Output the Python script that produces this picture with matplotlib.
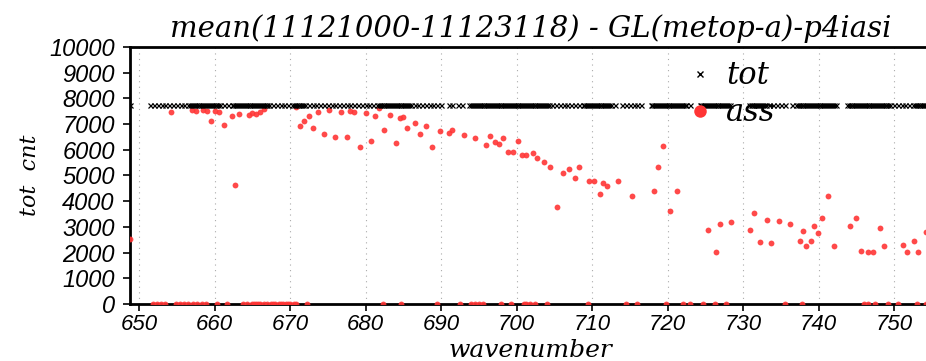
import numpy as np
import matplotlib
matplotlib.use('Agg')
import matplotlib.pyplot as plt
from matplotlib.lines import Line2D

# channels present in the "tot" row (wavenumber, cm-1)
tot_wn = [
    648.75,
    651.5, 652.0, 652.5, 653.0, 653.5, 654.0, 654.5, 655.0, 655.5, 656.0, 656.5,
    656.75, 657.0, 657.25, 657.5, 657.75, 658.0, 658.25, 658.5, 658.75, 659.0, 659.25,
    659.5, 659.75, 660.0, 660.25, 660.5, 660.75,
    661.25, 661.75, 662.25,
    662.5, 662.75, 663.0, 663.25, 663.5, 663.75, 664.0, 664.25, 664.5, 664.75, 665.0,
    665.25, 665.5, 665.75, 666.0, 666.25, 666.5, 666.75, 667.0, 667.25,
    667.75, 668.25, 668.75, 669.25, 669.75, 670.25,
    670.5, 670.75, 671.0, 671.25, 671.5, 671.75, 672.0,
    672.5, 673.0, 673.5, 674.0, 674.5, 675.0, 675.5, 676.0, 676.5, 677.0, 677.5, 678.0,
    678.5, 679.0, 679.5, 680.0, 680.5, 681.0, 681.5,
    681.75, 682.0, 682.25, 682.5, 682.75, 683.0, 683.25, 683.5, 683.75, 684.0, 684.25,
    684.5, 684.75, 685.0, 685.25, 685.5, 685.75, 686.0,
    686.5, 687.0, 687.5, 688.0, 688.5, 689.0, 689.5, 690.0,
    691.0, 691.5, 692.25, 692.75,
    693.75, 694.0, 694.25, 694.5, 694.75, 695.0, 695.25, 695.5, 695.75, 696.0, 696.25,
    696.5, 696.75, 697.0, 697.25, 697.5, 697.75, 698.0, 698.25, 698.5, 698.75, 699.0,
    699.25, 699.5, 699.75, 700.0, 700.25, 700.5, 700.75, 701.0, 701.25, 701.5, 701.75,
    702.0, 702.25, 702.5, 702.75, 703.0, 703.25, 703.5, 703.75, 704.0, 704.25,
    704.75, 705.25, 705.75, 706.25, 706.75, 707.25, 707.75, 708.25, 708.75,
    709.0, 709.25, 709.5, 709.75, 710.0, 710.25, 710.5, 710.75, 711.0, 711.25, 711.5,
    711.75, 712.0, 712.25, 712.5,
    713.0,
    714.0, 714.5, 715.0, 715.5, 716.0, 716.5,
    717.75, 718.0, 718.25, 718.5, 718.75, 719.0, 719.25, 719.5, 719.75, 720.0, 720.25,
    720.5, 720.75, 721.0, 721.25, 721.5, 721.75, 722.0, 722.25, 722.5,
    723.0,
    724.25, 724.5, 724.75, 725.0, 725.25, 725.5, 725.75, 726.0, 726.25, 726.5, 726.75,
    727.0, 727.25, 727.5, 727.75, 728.0, 728.25,
    730.75, 731.0, 731.25, 731.5, 731.75, 732.0, 732.25, 732.5, 732.75, 733.0, 733.5,
    734.0, 734.5, 735.0, 735.5,
    736.5, 737.0,
    737.25, 737.5, 737.75, 738.0, 738.25, 738.5, 738.75, 739.0, 739.25, 739.5, 739.75,
    740.0, 740.25, 740.5, 740.75, 741.0, 741.25, 741.5, 741.75, 742.0, 742.25,
    743.75, 744.0, 744.25, 744.5, 744.75, 745.0, 745.25, 745.5, 745.75, 746.0, 746.25,
    746.5, 746.75, 747.0, 747.25, 747.5, 747.75, 748.0, 748.25, 748.5, 748.75, 749.0,
    749.25, 749.5,
    750.0, 750.5, 751.0, 751.5, 752.0,
    752.5, 752.75, 753.0, 753.25, 753.5, 753.75, 754.0, 754.25, 754.5,
]
tot_count = 7750

# assimilated counts
ass_wn = [
    648.8, 654.2, 657.0, 657.5, 658.5, 659.0, 659.5, 660.1, 660.6, 661.3, 662.3, 662.7,
    663.2, 664.5, 665.0, 665.5, 666.0, 666.6, 670.8, 671.3, 671.9, 672.5, 673.0, 673.7,
    674.5, 675.2, 676.0, 676.8, 677.5, 677.9, 678.5, 679.3, 680.0, 680.7, 681.3, 681.8,
    682.5, 683.2, 684.0, 684.5, 685.0, 685.5, 686.5, 687.2, 688.0, 688.8, 689.8, 691.0,
    691.5, 693.0, 694.5, 696.0, 696.5, 697.2, 697.7, 698.2, 698.9, 699.5, 700.2, 700.7,
    701.3, 702.2, 702.7, 703.7, 704.4, 705.3, 706.2, 707.0, 707.7, 708.3, 709.6, 710.2,
    711.0, 711.5, 712.0, 713.5, 715.3, 718.2, 718.7, 719.4, 720.3, 721.2, 725.4, 726.4,
    726.95, 728.4, 730.9, 731.5, 732.2, 733.2, 733.7, 734.7, 736.2, 737.5, 738.0, 738.4,
    739.0, 739.4, 739.9, 740.5, 741.2, 742.0, 744.2, 745.0, 745.6, 746.5, 747.2, 748.2,
    748.7, 751.2, 751.7, 752.7, 753.2, 754.2,
]
ass_count = [
    2530, 7480, 7550, 7520, 7550, 7510, 7120, 7510, 7450, 6960, 7330, 4640,
    7390, 7350, 7420, 7390, 7480, 7590, 7650, 6930, 7100, 7330, 6840, 7450,
    6620, 7550, 6490, 7460, 6510, 7510, 7480, 6120, 7420, 6340, 7330, 7610,
    6750, 7340, 6250, 7250, 7260, 6850, 7040, 6620, 6930, 6120, 6730, 6670,
    6750, 6590, 6450, 6190, 6540, 6290, 6240, 6460, 5910, 5910, 6340, 5800,
    5800, 5860, 5670, 5510, 5320, 3790, 5090, 5240, 4920, 5310, 4800, 4800,
    4280, 4720, 4570, 4770, 4200, 4390, 5340, 6150, 3630, 4410, 2880, 2020,
    3100, 3200, 2880, 3530, 2410, 3270, 2370, 3240, 3110, 2450, 2840, 2260,
    2450, 3040, 2750, 3330, 4210, 2260, 3040, 3360, 2050, 2020, 2010, 2970,
    2260, 2300, 2040, 2450, 2020, 2790,
]
# channels with zero assimilated obs
zero_wn = [
    651.9, 652.4, 652.9, 653.5, 654.9, 655.4, 656.0, 656.5, 657.1, 657.7, 658.3, 658.9,
    660.3, 661.7, 663.75, 664.25, 665.0, 665.25, 665.5, 665.75, 666.0, 666.5, 667.0,
    667.5, 667.75, 668.0, 668.5, 668.75, 669.0, 669.5, 669.75, 670.0, 670.5, 670.75,
    672.25, 682.25, 684.75, 689.5, 692.5, 694.0, 694.5, 695.0, 695.5, 698.0, 699.25,
    701.0, 701.25, 701.75, 702.5, 704.0, 709.5, 714.5, 716.0, 719.75, 722.0, 723.0,
    724.75, 726.25, 727.75, 735.5, 737.75, 746.0, 746.5, 747.5, 749.25, 750.5, 753.0,
    754.25,
]

x_ticks = [650, 660, 670, 680, 690, 700, 710, 720, 730, 740, 750]
y_ticks = [0, 1000, 2000, 3000, 4000, 5000, 6000, 7000, 8000, 9000, 10000]

serif = 'DejaVu Serif'
sans = 'Liberation Sans'
red = '#ff3535'

fig = plt.figure(figsize=(9.26, 3.61), dpi=100)
ax = fig.add_axes([0.1404, 0.158, 0.865, 0.712])

ax.plot(zero_wn, np.zeros(len(zero_wn)), 'o', color=red, ms=4.2, mew=0, alpha=0.9, zorder=3)
ax.plot(ass_wn, ass_count, 'o', color=red, ms=4.2, mew=0, alpha=0.9, zorder=3)
ax.plot(tot_wn, np.full(len(tot_wn), tot_count), 'x', color='black', ms=3.6, mew=0.9, zorder=4)

ax.set_xlim(648.8, 754.9)
ax.set_ylim(0, 10000)
ax.set_xticks(x_ticks)
ax.set_yticks(y_ticks)
ax.set_xticklabels([str(v) for v in x_ticks], fontfamily=sans, fontstyle='italic', fontsize=16)
ax.set_yticklabels([str(v) for v in y_ticks], fontfamily=sans, fontstyle='italic', fontsize=17)
ax.tick_params(axis='both', direction='out', length=5, width=1.2)
ax.tick_params(axis='x', pad=2)
ax.tick_params(axis='y', pad=6)
ax.grid(axis='x', linestyle=(0, (1, 4)), color='#aaaaaa', linewidth=0.8)
for sp in ax.spines.values():
    sp.set_linewidth(2)

ax.set_title('mean(11121000-11123118) - GL(metop-a)-p4iasi', fontfamily=serif,
             fontstyle='italic', fontsize=21, pad=7)
ax.set_xlabel('wavenumber', fontfamily=serif, fontstyle='italic', fontsize=18, labelpad=3)
ax.set_ylabel('tot  cnt', fontfamily=serif, fontstyle='italic', fontsize=16, labelpad=6)

handles = [
    Line2D([], [], marker='x', color='black', ls='none', ms=5, mew=1),
    Line2D([], [], marker='o', color=red, ls='none', ms=9, mew=0),
]
ax.legend(handles, ['tot', 'ass'], loc='upper left', bbox_to_anchor=(0.662, 1.055),
          frameon=False, handlelength=0.8, handletextpad=0.45, labelspacing=0.2,
          prop={'family': serif, 'style': 'italic', 'size': 22})

fig.savefig('out.png', dpi=100)
